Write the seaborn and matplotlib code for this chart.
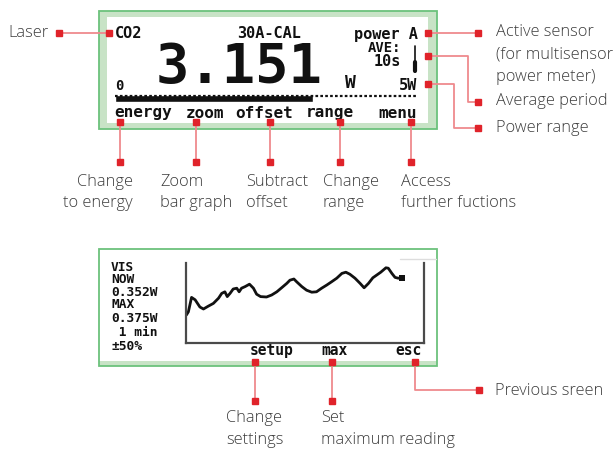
import matplotlib
matplotlib.use("Agg")
import matplotlib.pyplot as plt
import seaborn as sns
import pandas as pd
from matplotlib.patches import Rectangle

sns.set_theme(style="white")
plt.rcParams['font.family'] = ['DejaVu Sans']

# ---------------- data ----------------
power_reading_w = 3.151
bar_scale_max_w = 4.8
bar_categories = ["power"]

trace_time_s = [0.1, 0.6, 1.4, 2.3, 3.5, 4.4, 5.6, 6.9, 8.2, 9.0, 9.8, 10.4, 11.1, 11.9,
                12.8, 13.4, 14.0, 14.9, 16.0, 17.0, 17.8, 18.8, 20.3, 21.6, 22.9, 24.1,
                25.4, 26.2, 27.2, 27.9, 29.2, 30.4, 31.7, 32.9, 34.2, 35.5, 36.7, 38.0,
                39.3, 40.3, 41.3, 42.6, 43.9, 44.9, 46.0, 47.1, 48.1, 49.1, 50.4, 51.0,
                51.9, 52.7, 53.5, 54.4]
trace_rel_pct = [-15, -11, 7, 4, -5, -7.5, -4, -0.5, 6, 12, 14, 8, 12, 17.5,
                 18.5, 14, 18.5, 20.5, 23.5, 18.5, 11, 8, 7.5, 10, 14, 19,
                 24.5, 28.5, 30, 26.5, 20.5, 16, 13.5, 14, 18.5, 22.5, 26.5, 31,
                 37, 38.5, 36, 31, 24.5, 19, 24.5, 31.5, 35, 38.5, 44, 43.5,
                 37, 32, 31, 31.5]

lcd1_top = ["CO2", "30A-CAL", "power A"]
lcd1_side = ["AVE:", "10s"]
lcd1_big = "3.151"
lcd1_unit = "W"
lcd1_scale = ["0", "5W"]
lcd1_softkeys = ["energy", "zoom", "offset", "range", "menu"]
lcd2_info = ["VIS", "NOW", "0.352W", "MAX", "0.375W", " 1 min", "±50%"]
lcd2_softkeys = ["setup", "max", "esc"]

left_label = "Laser"
right_labels = [["Active sensor", "(for multisensor", "power meter)"],
                ["Average period"], ["Power range"]]
bottom1_labels = [["Change", "to energy"], ["Zoom", "bar graph"], ["Subtract", "offset"],
                  ["Change", "range"], ["Access", "further fuctions"]]
bottom2_labels = [["Change", "settings"], ["Set", "maximum reading"]]
prev_label = "Previous sreen"

# ---------------- styles ----------------
W, H = 614, 450
LIGHT_GREEN = "#c8e3c6"
EDGE_GREEN = "#6cc27c"
RED = "#e0232a"
PINK = "#ef8a8e"
TXT = "#3c3c3c"
LCD = "#111111"
ANN_FONT = dict(family=["Open Sans", "DejaVu Sans"], fontsize=11.8, color=TXT, weight="light")
LCD_FONT = dict(family=["DejaVu Sans Mono"], weight="bold", color=LCD)

fig = plt.figure(figsize=(W / 100, H / 100), dpi=100)
bg = fig.add_axes([0, 0, 1, 1])
bg.set_xlim(0, W)
bg.set_ylim(H, 0)
bg.axis("off")


def box(x0, y0, x1, y1):
    return [x0 / W, 1 - y1 / H, (x1 - x0) / W, (y1 - y0) / H]


# ---------------- panel 1 ----------------
bg.add_patch(Rectangle((99, 11), 338, 118, fc=LIGHT_GREEN, ec=EDGE_GREEN, lw=1.3))
bg.add_patch(Rectangle((107, 17), 321, 106, fc="white", ec="none"))

bg.text(115, 33, lcd1_top[0], ha="left", va="center", fontsize=11, **LCD_FONT)
bg.text(269, 33, lcd1_top[1], ha="center", va="center", fontsize=11, **LCD_FONT)
bg.text(418, 34, lcd1_top[2], ha="right", va="center", fontsize=11, **LCD_FONT)
bg.text(401, 48.5, lcd1_side[0], ha="right", va="center", fontsize=10, **LCD_FONT)
bg.text(401, 62, lcd1_side[1], ha="right", va="center", fontsize=11, **LCD_FONT)
bg.plot([415, 415], [46, 62], color=LCD, lw=1.2)
bg.plot([415, 415], [62, 71], color=LCD, lw=3)
bg.text(239, 83, lcd1_big, ha="center", va="baseline", fontsize=40, **LCD_FONT)
bg.text(350, 88, lcd1_unit, ha="center", va="baseline", fontsize=13, **LCD_FONT)
bg.text(119, 90.5, lcd1_scale[0], ha="center", va="baseline", fontsize=10, **LCD_FONT)
bg.text(417, 90.5, lcd1_scale[1], ha="right", va="baseline", fontsize=11, **LCD_FONT)

key_x = [114, 205, 264, 330, 417]
key_ha = ["left", "center", "center", "center", "right"]
for k, x, ha in zip(lcd1_softkeys, key_x, key_ha):
    bg.text(x, 113, k, ha=ha, va="center", fontsize=11.5, **LCD_FONT)

# level bar graph
axb = fig.add_axes(box(115, 95, 416, 102))
df_bar = pd.DataFrame({"cat": bar_categories, "val": [power_reading_w]})
sns.barplot(data=df_bar, x="val", y="cat", orient="h", color=LCD, width=0.9,
            saturation=1, ax=axb)
axb.set_xlim(0, bar_scale_max_w)
axb.set_ylim(0.5, -0.5)
axb.axhline(-0.42, color=LCD, lw=1.6, ls=(0, (1.2, 1.0)), clip_on=False)
axb.axis("off")

# ---------------- panel 2 ----------------
bg.add_patch(Rectangle((99, 249), 338, 117, fc="white", ec="none"))
bg.add_patch(Rectangle((99, 361), 338, 5, fc=LIGHT_GREEN, ec="none"))
bg.add_patch(Rectangle((99, 249), 338, 117, fc="none", ec=EDGE_GREEN, lw=1.3))
bg.plot([400, 436], [259, 259], color="#dddddd", lw=1)

info_y = [267.5, 279.5, 292, 305, 318, 333, 346]
for t, y in zip(lcd2_info, info_y):
    bg.text(111, y, t, ha="left", va="center", fontsize=9.3, **LCD_FONT)
for t, x in zip(lcd2_softkeys, [272, 335, 408]):
    bg.text(x, 350.5, t, ha="center", va="center", fontsize=10.5, **LCD_FONT)

axt = fig.add_axes(box(186, 263, 424, 343))
axt.set_facecolor("none")
df_tr = pd.DataFrame({"t": trace_time_s, "p": trace_rel_pct})
sns.lineplot(data=df_tr, x="t", y="p", color=LCD, lw=2, ax=axt)
sns.scatterplot(data=df_tr.tail(1), x="t", y="p", color=LCD, s=18, marker="s",
                linewidth=0, ax=axt)
axt.set_xlim(0, 60)
axt.set_ylim(-50, 50)
axt.set_xticks([])
axt.set_yticks([])
axt.set_xlabel("")
axt.set_ylabel("")
axt.spines["top"].set_visible(False)
for s in ["left", "bottom", "right"]:
    axt.spines[s].set_color("#4a4a4a")
    axt.spines[s].set_linewidth(1.6)

# ---------------- connectors ----------------
def connector(xs, ys):
    bg.plot(xs, ys, color=PINK, lw=1.3, solid_capstyle="butt", zorder=5)
    bg.plot([xs[0], xs[-1]], [ys[0], ys[-1]], ls="none", marker="s", ms=3.8,
            color=RED, mec=RED, zorder=6)


connector([59, 109], [33, 33])
connector([428, 478], [33, 33])
connector([428, 468, 468, 478], [56, 56, 102, 102])
connector([428, 454, 454, 478], [84, 84, 128, 128])
for x in [120, 196, 270, 340, 411]:
    connector([x, x], [122, 162])
connector([255, 255], [362, 401])
connector([332, 332], [362, 401])
connector([415, 415, 479], [362, 390, 390])

# ---------------- annotation texts ----------------
bg.text(8, 33, left_label, ha="left", va="center", **ANN_FONT)
for lines, y0 in zip(right_labels, [32, 101, 128.5]):
    for i, t in enumerate(lines):
        bg.text(496, y0 + i * 22.5, t, ha="left", va="center", **ANN_FONT)

b1_x = [133, 160, 246, 323, 401]
b1_ha = ["right", "left", "left", "left", "left"]
for lines, x, ha in zip(bottom1_labels, b1_x, b1_ha):
    for i, t in enumerate(lines):
        bg.text(x, 181.5 + i * 21.5, t, ha=ha, va="center", **ANN_FONT)

for lines, x in zip(bottom2_labels, [226, 321]):
    for i, t in enumerate(lines):
        bg.text(x, 418 + i * 22, t, ha="left", va="center", **ANN_FONT)
bg.text(495, 391, prev_label, ha="left", va="center", **ANN_FONT)

fig.savefig("out.png", dpi=100)
